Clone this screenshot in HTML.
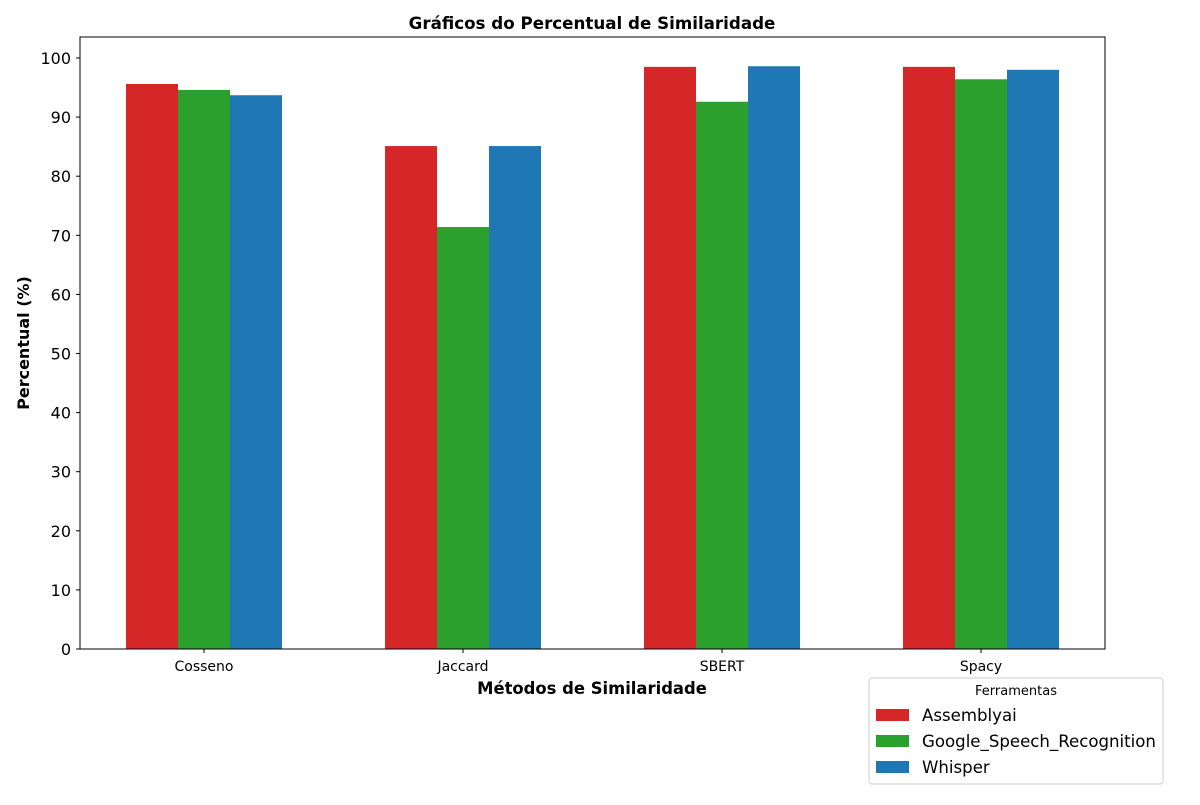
<!DOCTYPE html>
<html><head><meta charset="utf-8"><style>
body{margin:0;background:#fff;}
svg text{font-family:"DejaVu Sans","Liberation Sans",sans-serif;}
</style></head><body>
<svg id="chart" width="1200" height="800"></svg>
<script>
const categories=["Cosseno","Jaccard","SBERT","Spacy"];
const seriesNames=["Assemblyai","Google_Speech_Recognition","Whisper"];
const assemblyai=[95.6,85.1,98.5,98.5];
const google=[94.6,71.4,92.6,96.4];
const whisper=[93.7,85.1,98.6,98.0];
const yTicks=[0,10,20,30,40,50,60,70,80,90,100];
const colors=["#d62728","#2ca02c","#1f77b4"];
const series=[assemblyai,google,whisper];
const NS="http://www.w3.org/2000/svg";
const svg=document.getElementById("chart");
const L=80,R=1105,T=37,B=649;
const y=v=>B-v*5.91;
const x=i=>204+i*259;
const bw=52;
function mk(tag,attrs,parent){const e=document.createElementNS(NS,tag);for(const k in attrs)e.setAttribute(k,attrs[k]);(parent||svg).appendChild(e);return e;}
series.forEach((s,si)=>{s.forEach((v,i)=>{
const r=mk("rect",{x:x(i)-1.5*bw+si*bw,y:y(v),width:bw,height:B-y(v),fill:colors[si]});


});});
const frame=mk("rect",{x:L,y:T,width:R-L,height:B-T,fill:"none",stroke:"#000","stroke-width":1});


yTicks.forEach(t=>{
mk("line",{x1:L-4,x2:L,y1:y(t),y2:y(t),stroke:"#000"});
const tx=mk("text",{x:L-9,y:y(t)+6,"text-anchor":"end","font-size":16});
tx.textContent=t;


});
categories.forEach((c,i)=>{
mk("line",{x1:x(i),x2:x(i),y1:B,y2:B+4,stroke:"#000"});
const tx=mk("text",{x:x(i),y:B+22,"text-anchor":"middle","font-size":14});
tx.textContent=c;


});
const title=mk("text",{x:592,y:29,"text-anchor":"middle","font-size":16.7,"font-weight":"bold"});
title.textContent="Gráficos do Percentual de Similaridade";


const xt=mk("text",{x:592,y:694,"text-anchor":"middle","font-size":16.4,"font-weight":"bold"});
xt.textContent="Métodos de Similaridade";


const yt=mk("text",{x:29,y:343,"text-anchor":"middle","font-size":16,"font-weight":"bold",transform:"rotate(-90 29 343)"});
yt.textContent="Percentual (%)";


const lg=mk("g",{});


mk("rect",{x:869,y:678,width:294,height:106,rx:3,fill:"#fff",stroke:"#ccc"},lg);
const lt=mk("text",{x:1016,y:695,"text-anchor":"middle","font-size":13},lg);
lt.textContent="Ferramentas";
seriesNames.forEach((n,i)=>{
const g=mk("g",{},lg);


mk("rect",{x:876,y:709+i*26,width:33,height:12,fill:colors[i]},g);
const t=mk("text",{x:922,y:721+i*26,"font-size":16.6},g);
t.textContent=n;
});
</script>
</body></html>
